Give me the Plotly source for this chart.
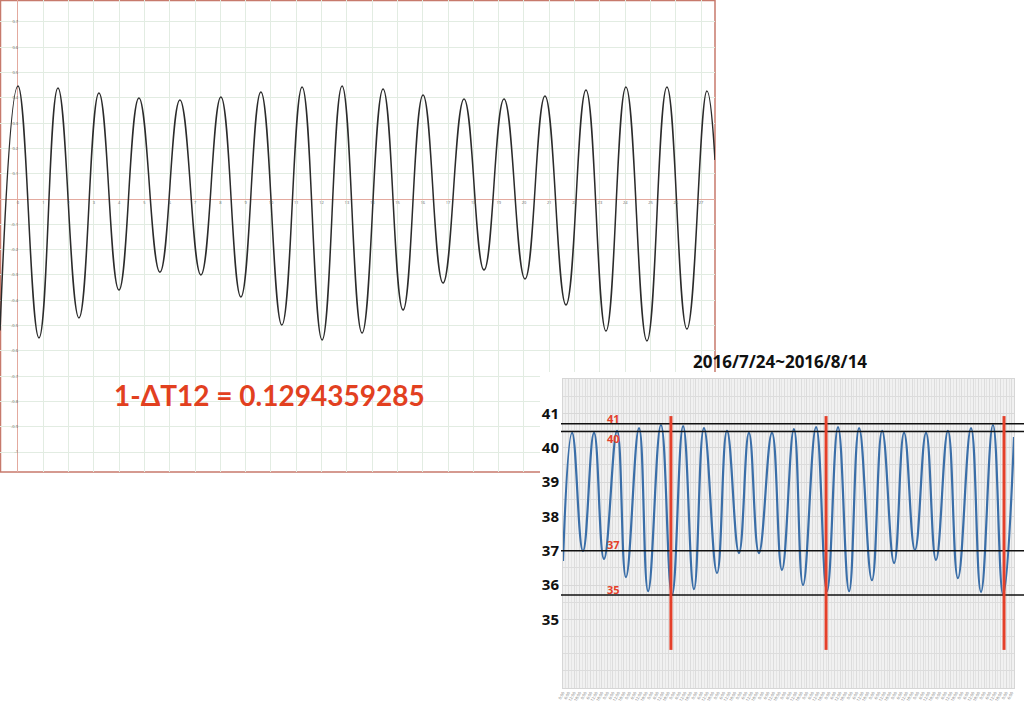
import plotly.graph_objects as go

# ---------------- Chart 1 (graph-paper plot) ----------------
c1_peak_x = [0.00, 1.58, 3.20, 4.78, 6.40, 8.02, 9.60, 11.23, 12.81, 14.43,
             16.01, 17.63, 19.21, 20.83, 22.45, 24.03, 25.65, 27.23]
c1_peak_y = [0.447, 0.439, 0.419, 0.399, 0.391, 0.403, 0.423, 0.443, 0.447, 0.435,
             0.411, 0.395, 0.395, 0.407, 0.431, 0.443, 0.443, 0.427]
c1_trough_x = [0.83, 2.41, 3.99, 5.61, 7.23, 8.81, 10.43, 12.02, 13.60, 15.22,
               16.80, 18.42, 20.04, 21.66, 23.24, 24.86, 26.44]
c1_trough_y = [-0.549, -0.470, -0.360, -0.289, -0.300, -0.387, -0.498, -0.557, -0.530, -0.439,
               -0.332, -0.281, -0.316, -0.419, -0.522, -0.561, -0.514]
c1_start = (-0.71, -0.52)
c1_end = (27.55, 0.154)
c1_x_ticks = list(range(0, 28))
c1_y_ticks = [-1.0, -0.9, -0.8, -0.7, -0.6, -0.5, -0.4, -0.3, -0.2, -0.1,
              0.1, 0.2, 0.3, 0.4, 0.5, 0.6, 0.7]
c1_label = "1-ΔT12 = 0.1294359285"

# ---------------- Chart 2 (temperature, 2016/7/24~2016/8/14) ----------------
c2_title = "2016/7/24~2016/8/14"
c2_peak_day = [0.41, 1.40, 2.44, 3.43, 4.42, 5.42, 6.36, 7.40, 8.39, 9.43,
               10.42, 11.42, 12.41, 13.36, 14.40, 15.39, 16.38, 17.37, 18.41, 19.40]
c2_peak_temp = [40.43, 40.43, 40.49, 40.57, 40.66, 40.63, 40.57, 40.49, 40.43, 40.43,
                40.54, 40.60, 40.60, 40.57, 40.49, 40.43, 40.43, 40.49, 40.57, 40.66]
c2_trough_day = [0.90, 1.85, 2.84, 3.84, 4.92, 5.91, 6.95, 7.94, 8.84, 9.88,
                 10.83, 11.91, 12.91, 13.94, 14.94, 15.88, 16.83, 17.82, 18.86, 19.86]
c2_trough_temp = [36.99, 36.76, 36.23, 35.82, 35.71, 35.88, 36.35, 36.93, 36.93, 36.44,
                  36.00, 35.82, 35.82, 36.14, 36.64, 37.02, 36.73, 36.20, 35.80, 35.71]
c2_start = (0.0, 36.70)
c2_end = (20.35, 40.31)
c2_ref_levels = [40.70, 40.47, 37.00, 35.71]
c2_marker_days = [4.87, 11.87, 19.90]
c2_marker_span = (34.11, 40.92)
c2_y_ticks = [35, 36, 37, 38, 39, 40, 41]
c2_red_labels = ["41", "40", "37", "35"]
c2_red_label_temps = [40.86, 40.26, 37.17, 35.88]
c2_x_range = (0.0, 20.35)
c2_y_range = (33.0, 42.0)
c2_hours = ["0:00", "6:00", "12:00", "18:00"]

# ---- build chart 1 series ----
x1 = [c1_start[0]]
y1 = [c1_start[1]]
for i in range(len(c1_peak_x)):
    x1.append(c1_peak_x[i]); y1.append(c1_peak_y[i])
    if i < len(c1_trough_x):
        x1.append(c1_trough_x[i]); y1.append(c1_trough_y[i])
x1.append(c1_end[0]); y1.append(c1_end[1])

# ---- build chart 2 series ----
x2 = [c2_start[0]]
y2 = [c2_start[1]]
for i in range(len(c2_peak_day)):
    x2.append(c2_peak_day[i]); y2.append(c2_peak_temp[i])
    x2.append(c2_trough_day[i]); y2.append(c2_trough_temp[i])
x2.append(c2_end[0]); y2.append(c2_end[1])

c2_tickvals = [i * 0.25 for i in range(int(c2_x_range[1] / 0.25) + 1)]
c2_ticktext = [c2_hours[i % 4] for i in range(len(c2_tickvals))]

W, H = 1024, 703

fig = go.Figure()

# chart 1 curve
fig.add_trace(go.Scatter(x=x1, y=y1, mode="lines",
                         line=dict(color="#2b2b2b", width=1.5, shape="spline", smoothing=1.3),
                         xaxis="x", yaxis="y", showlegend=False, hoverinfo="skip"))
# cover subplot (white pasted image area)
fig.add_trace(go.Scatter(x=[None], y=[None], mode="lines", xaxis="x2", yaxis="y2",
                         showlegend=False, hoverinfo="skip"))
# chart 2 curve
fig.add_trace(go.Scatter(x=x2, y=y2, mode="lines",
                         line=dict(color="#3a6ea8", width=2.2, shape="spline", smoothing=1.3),
                         xaxis="x3", yaxis="y3", showlegend=False, hoverinfo="skip"))

shapes = []
# chart 1 border
shapes.append(dict(type="rect", xref="paper", yref="paper", x0=0.5 / W, x1=715 / W, y0=1 - 472 / H,
                   y1=1 - 0.5 / H, line=dict(color="#c77a6c", width=1.5), layer="below"))
# chart 2 grey plot background
shapes.append(dict(type="rect", xref="x3", yref="y3", x0=c2_x_range[0], x1=c2_x_range[1],
                   y0=c2_y_range[0], y1=c2_y_range[1], fillcolor="#f1f1f1", line=dict(width=0),
                   layer="below"))
# horizontal reference lines
for lv in c2_ref_levels:
    shapes.append(dict(type="line", xref="paper", yref="y3", x0=561 / W, x1=1.0, y0=lv, y1=lv,
                       line=dict(color="#111111", width=1.5), layer="above"))
# red vertical markers
for d in c2_marker_days:
    shapes.append(dict(type="line", xref="x3", yref="y3", x0=d, x1=d,
                       y0=c2_marker_span[0], y1=c2_marker_span[1],
                       line=dict(color="#e4402a", width=3), layer="above"))

annotations = []
annotations.append(dict(text=c1_label, xref="paper", yref="paper", x=269 / W, y=1 - 395 / H,
                        showarrow=False, font=dict(family="Lato", size=28, color="#e2401f", weight="bold"),
                        xanchor="center", yanchor="middle"))
annotations.append(dict(text=c2_title, xref="paper", yref="paper", x=780 / W, y=1 - 361 / H,
                        showarrow=False, font=dict(family="Noto Sans", size=17, color="#111111", weight="bold"),
                        xanchor="center", yanchor="middle"))
for txt, t in zip(c2_red_labels, c2_red_label_temps):
    annotations.append(dict(text=txt, xref="paper", yref="y3", x=613 / W, y=t, showarrow=False,
                            font=dict(family="Noto Sans", size=11, color="#e4402a", weight="bold"),
                            xanchor="center", yanchor="middle"))

fig.update_layout(
    width=W, height=H, autosize=False,
    margin=dict(l=0, r=0, t=0, b=0, pad=0),
    paper_bgcolor="white", plot_bgcolor="white",
    showlegend=False,
    shapes=shapes, annotations=annotations,
    xaxis=dict(domain=[0, 715 / W], range=[-0.711, 27.55], anchor="free", position=1 - 199 / H,
               tickmode="array", tickvals=c1_x_ticks, ticktext=[str(v) for v in c1_x_ticks],
               tickfont=dict(size=4, color="#666666"), ticks="", showgrid=True, gridcolor="#e2ece2",
               gridwidth=1, zeroline=True, zerolinecolor="#e3aa9f", zerolinewidth=1, showline=False,
               fixedrange=True, automargin=False),
    yaxis=dict(domain=[1 - 472 / H, 1], range=[-1.079, 0.7866], anchor="free", position=18 / W,
               tickmode="array", tickvals=c1_y_ticks, ticktext=[f"{v:g}" for v in c1_y_ticks],
               tickfont=dict(size=4, color="#666666"), ticks="", showgrid=True, gridcolor="#e2ece2",
               gridwidth=1, zeroline=True, zerolinecolor="#e3aa9f", zerolinewidth=1, showline=False,
               fixedrange=True, automargin=False),
    xaxis2=dict(domain=[540 / W, 1.0], range=[0, 1], anchor="y2", showgrid=False, zeroline=False,
                showticklabels=False, ticks="", showline=False, fixedrange=True, automargin=False),
    yaxis2=dict(domain=[0, 1 - 372 / H], range=[0, 1], anchor="x2", showgrid=False, zeroline=False,
                showticklabels=False, ticks="", showline=False, fixedrange=True, automargin=False),
    xaxis3=dict(domain=[563 / W, 1014 / W], range=list(c2_x_range), anchor="y3",
                tickmode="array", tickvals=c2_tickvals, ticktext=c2_ticktext, tickangle=-60,
                tickfont=dict(size=4, color="#777777"), ticks="",
                showgrid=True, gridcolor="#dcdcdc", gridwidth=1,
                minor=dict(dtick=0.125, tick0=0, showgrid=True, gridcolor="#e4e4e4", gridwidth=1),
                zeroline=False, showline=True, linecolor="#d6d6d6", mirror=True, fixedrange=True,
                automargin=False),
    yaxis3=dict(domain=[1 - 688 / H, 1 - 379 / H], range=list(c2_y_range), anchor="x3",
                tickmode="array", tickvals=c2_y_ticks, ticktext=[str(v) for v in c2_y_ticks],
                tickfont=dict(family="Noto Sans", size=15, color="#111111", weight="bold"), ticks="",
                showgrid=True, gridcolor="#d8d8d8", gridwidth=1,
                minor=dict(dtick=0.5, tick0=0, showgrid=True, gridcolor="#dcdcdc", gridwidth=1),
                zeroline=False, showline=True, linecolor="#d6d6d6", mirror=True, fixedrange=True,
                automargin=False),
)

fig.write_html("out.html", config={"displayModeBar": False, "staticPlot": True},
               post_script="document.body.style.margin='0';document.body.style.overflow='hidden';")
